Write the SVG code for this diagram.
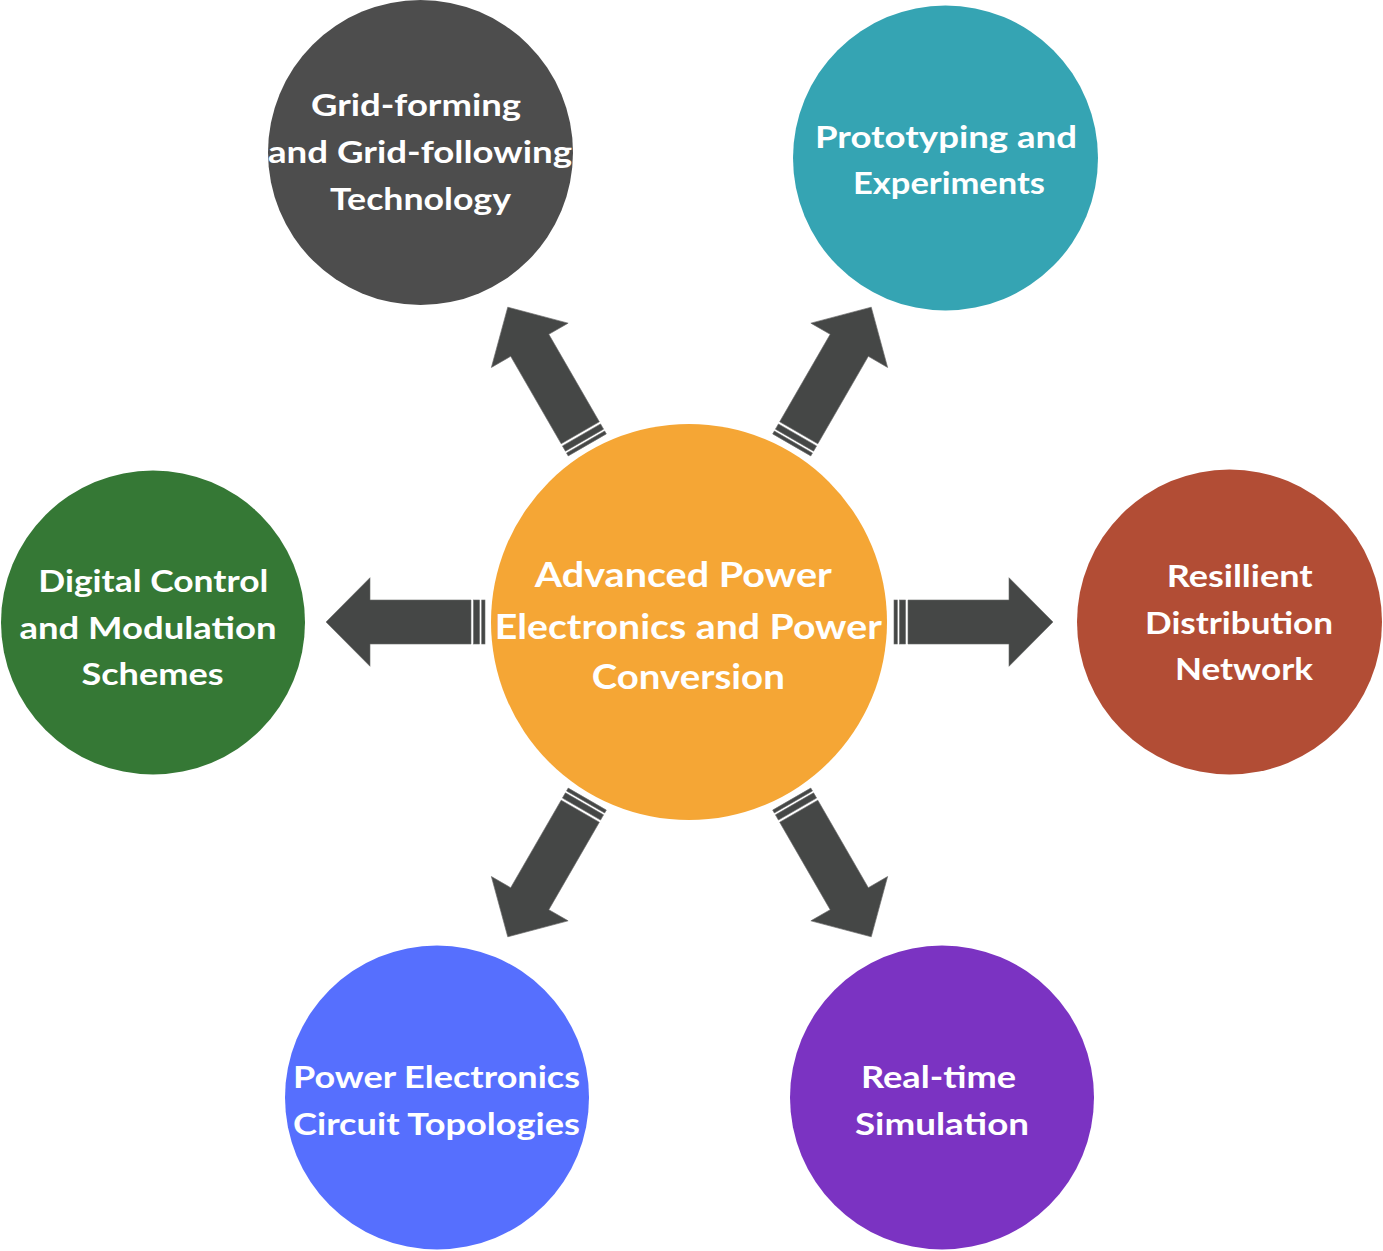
<svg xmlns="http://www.w3.org/2000/svg" xmlns:xlink="http://www.w3.org/1999/xlink" width="1383" height="1251" viewBox="0 0 1383 1251">
<style>
.lbl{font-family:Lato,"Open Sans","Liberation Sans",sans-serif;font-weight:bold;font-size:30.5px;fill:#ffffff;text-anchor:middle}
.big{font-size:35px}
.arr{fill:#454746;stroke:#6a6b6a;stroke-width:0.6}
</style>
<defs>
<g id="arrow">
<rect class="arr" x="204.5" y="-22" width="3.3" height="44"/>
<rect class="arr" x="210" y="-22" width="6" height="44"/>
<polygon class="arr" points="218.5,-22 319.5,-22 319.5,-44.3 363.5,0 319.5,44.3 319.5,22 218.5,22"/>
</g>
</defs>
<rect width="1383" height="1251" fill="#ffffff"/>
<g id="connectors">
<use xlink:href="#arrow" transform="translate(689.5 622) rotate(0)"/>
<use xlink:href="#arrow" transform="translate(689.5 622) rotate(180)"/>
<use xlink:href="#arrow" transform="translate(689.5 622) rotate(-60)"/>
<use xlink:href="#arrow" transform="translate(689.5 622) rotate(-120)"/>
<use xlink:href="#arrow" transform="translate(689.5 622) rotate(60)"/>
<use xlink:href="#arrow" transform="translate(689.5 622) rotate(120)"/>
</g>
<g id="center">
<circle cx="689" cy="622" r="198" fill="#f5a635"/>
<text class="lbl big" x="683.3" y="587" textLength="297" lengthAdjust="spacingAndGlyphs">Advanced Power</text>
<text class="lbl big" x="688.3" y="638.5" textLength="387" lengthAdjust="spacingAndGlyphs">Electronics and Power</text>
<text class="lbl big" x="688.3" y="689" textLength="193" lengthAdjust="spacingAndGlyphs">Conversion</text>
</g>
<g id="grid-forming">
<circle cx="420.5" cy="152.5" r="152.5" fill="#4d4d4d"/>
<text class="lbl" x="416" y="116" textLength="210" lengthAdjust="spacingAndGlyphs">Grid-forming</text>
<text class="lbl" x="420" y="163" textLength="304" lengthAdjust="spacingAndGlyphs">and Grid-following</text>
<text class="lbl" x="420.5" y="210" textLength="181" lengthAdjust="spacingAndGlyphs">Technology</text>
</g>
<g id="prototyping">
<circle cx="945.5" cy="158" r="152.5" fill="#35a4b3"/>
<text class="lbl" x="946" y="147.5" textLength="262" lengthAdjust="spacingAndGlyphs">Prototyping and</text>
<text class="lbl" x="949" y="194" textLength="192" lengthAdjust="spacingAndGlyphs">Experiments</text>
</g>
<g id="resilient">
<circle cx="1229.5" cy="622" r="152.5" fill="#b24d35"/>
<text class="lbl" x="1239.7" y="587" textLength="146" lengthAdjust="spacingAndGlyphs">Resillient</text>
<text class="lbl" x="1239" y="633.5" textLength="188" lengthAdjust="spacingAndGlyphs">Distribution</text>
<text class="lbl" x="1244" y="680" textLength="138" lengthAdjust="spacingAndGlyphs">Network</text>
</g>
<g id="digital-control">
<circle cx="153" cy="622.5" r="152" fill="#357835"/>
<text class="lbl" x="153.3" y="592" textLength="230" lengthAdjust="spacingAndGlyphs">Digital Control</text>
<text class="lbl" x="148" y="638.5" textLength="257" lengthAdjust="spacingAndGlyphs">and Modulation</text>
<text class="lbl" x="152.5" y="685" textLength="142" lengthAdjust="spacingAndGlyphs">Schemes</text>
</g>
<g id="topologies">
<circle cx="437" cy="1097.5" r="152" fill="#566ffe"/>
<text class="lbl" x="436.5" y="1088" textLength="287" lengthAdjust="spacingAndGlyphs">Power Electronics</text>
<text class="lbl" x="436.5" y="1135" textLength="287" lengthAdjust="spacingAndGlyphs">Circuit Topologies</text>
</g>
<g id="simulation">
<circle cx="942" cy="1097.5" r="152" fill="#7b33c2"/>
<text class="lbl" x="938.5" y="1088" textLength="155" lengthAdjust="spacingAndGlyphs">Real-time</text>
<text class="lbl" x="942" y="1135" textLength="174" lengthAdjust="spacingAndGlyphs">Simulation</text>
</g>
</svg>
